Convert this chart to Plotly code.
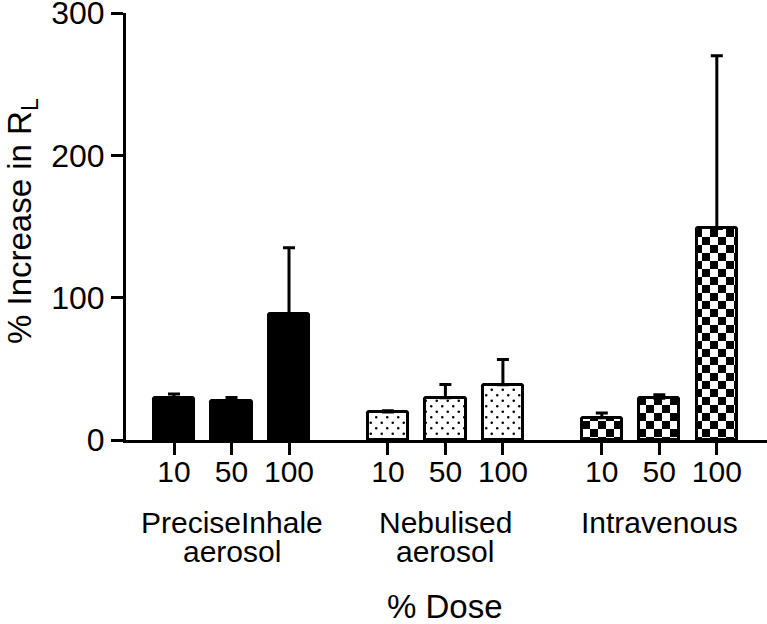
import plotly.graph_objects as go

# ---- data ----
groups = ["PreciseInhale<br>aerosol", "Nebulised<br>aerosol", "Intravenous"]
doses = ["10", "50", "100"]
means = {
    "PreciseInhale": [29.5, 27.4, 88.7],
    "Nebulised": [19.7, 29.7, 38.8],
    "Intravenous": [15.6, 29.3, 148.6],
}
errors_up = {
    "PreciseInhale": [2.8, 2.5, 46.3],
    "Nebulised": [0.8, 9.3, 17.7],
    "Intravenous": [3.4, 2.5, 121.4],
}
y_ticks = [0, 100, 200, 300]

# ---- layout helpers ----
W, H = 767, 624
L, R, T = 126, 0, 13
PLOT_H = 427
B = H - T - PLOT_H
group_step = 3.72
font = "Liberation Sans, Arial, Helvetica, sans-serif"

styles = [
    dict(color="black", pattern=None),
    dict(color="white", pattern=dict(shape=".", fgcolor="black", bgcolor="white",
                                     size=11, solidity=0.05, fillmode="replace")),
    dict(color="white", pattern=dict(shape=".", fgcolor="black", bgcolor="white",
                                     size=16, solidity=0.3, fillmode="replace")),
]

fig = go.Figure()
tickvals, ticktext, centers = [], [], []
for gi, key in enumerate(means):
    xs = [gi * group_step + di for di in range(len(doses))]
    tickvals += xs
    ticktext += doses
    centers.append(xs[1])
    marker = dict(color=styles[gi]["color"], line=dict(color="black", width=3),
                  cornerradius=2)
    if styles[gi]["pattern"]:
        marker["pattern"] = styles[gi]["pattern"]
    fig.add_trace(go.Bar(
        x=xs, y=means[key], width=0.7, marker=marker,
        error_y=dict(type="data", symmetric=False, array=errors_up[key],
                     arrayminus=[0] * len(doses), color="black",
                     thickness=3, width=6),
        showlegend=False,
    ))

xmin = -0.835
xmax = xmin + (W - L - R) / 57.5

fig.update_layout(
    width=W, height=H,
    margin=dict(l=L, r=R, t=T, b=B, pad=0),
    paper_bgcolor="white", plot_bgcolor="white",
    font=dict(family=font, color="black"),
    bargap=0,
    xaxis=dict(range=[xmin, xmax], tickvals=tickvals, ticktext=ticktext,
               showline=True, linecolor="black", linewidth=3,
               ticks="outside", ticklen=12, tickwidth=3, tickcolor="black",
               tickfont=dict(size=30, family=font), showgrid=False,
               zeroline=False, fixedrange=True, automargin=False,
               ticklabeloverflow="allow", ticklabelstandoff=-9),
    yaxis=dict(range=[0, 300], tickvals=y_ticks,
               showline=True, linecolor="black", linewidth=3,
               ticks="outside", ticklen=12, tickwidth=3, tickcolor="black",
               tickfont=dict(size=32, family=font), showgrid=False,
               zeroline=False, fixedrange=True, automargin=False,
               ticklabeloverflow="allow"),
)

plot_w = W - L - R
def ypaper(px):
    return (T + PLOT_H - px) / PLOT_H

def xpaper(px):
    return (px - L) / plot_w

fig.add_annotation(x=xpaper(22), xref="paper", y=ypaper(221), yref="paper",
                   text="% Increase in R<sub>L</sub>", textangle=-90, showarrow=False,
                   xanchor="center", yanchor="middle",
                   font=dict(size=33, family=font, color="black"))

for gi, label in enumerate(groups):
    lines = label.split("<br>")
    for li, line in enumerate(lines):
        fig.add_annotation(x=centers[gi], xref="x", y=ypaper(522 + 29 * li), yref="paper",
                           text=line, showarrow=False, xanchor="center", yanchor="middle",
                           font=dict(size=30, family=font, color="black"))

fig.add_annotation(x=centers[1], xref="x", y=ypaper(606), yref="paper",
                   text="% Dose", showarrow=False, xanchor="center", yanchor="middle",
                   font=dict(size=33, family=font, color="black"))

# Page margin removal + texture fix (staggered dot field and checkerboard tiles)
post = """
(function(){
  document.documentElement.style.margin = '0';
  document.body.style.margin = '0';
  document.body.style.padding = '0';
  var gd = document.getElementById('{plot_id}');
  var NS = 'http://www.w3.org/2000/svg';
  function dot(cx, cy, r){
    return 'M' + (cx - r) + ',' + cy + 'a' + r + ',' + r + ' 0 1,0 ' + (2*r) + ',0' +
           'a' + r + ',' + r + ' 0 1,0 ' + (-2*r) + ',0Z';
  }
  function fix(){
    document.querySelectorAll('pattern').forEach(function(p){
      if (p.getAttribute('data-fixed')) return;
      var w = parseFloat(p.getAttribute('width'));
      var c = p.querySelector('circle');
      if (!c) return;
      var d = null;
      if (Math.abs(w - 16) < 0.01) {
        d = 'M0,0H8V8H0Z M8,8H16V16H8Z';
      } else if (Math.abs(w - 11) < 0.01) {
        d = dot(2.75, 2.75, 1.3) + dot(8.25, 8.25, 1.3);
      }
      if (!d) return;
      var path = document.createElementNS(NS, 'path');
      path.setAttribute('d', d);
      path.setAttribute('fill', 'black');
      p.appendChild(path);
      c.parentNode.removeChild(c);
      p.setAttribute('data-fixed', '1');
    });
  }
  fix();
  setTimeout(fix, 50);
  if (gd && gd.on) gd.on('plotly_afterplot', function(){ setTimeout(fix, 0); });
})();
"""

fig.write_html("out.html", post_script=post, config={"displayModeBar": False})
